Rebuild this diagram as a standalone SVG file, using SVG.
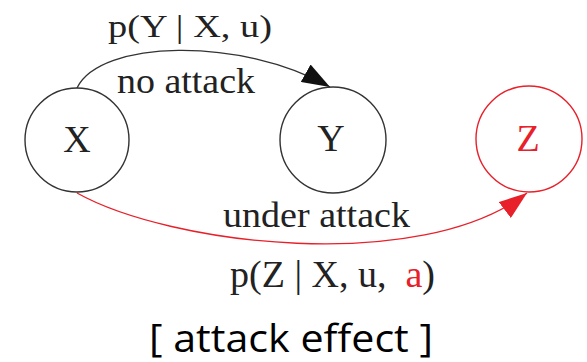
<svg xmlns="http://www.w3.org/2000/svg" width="587" height="362" viewBox="0 0 587 362">
<style>
.serif{font-family:"Liberation Serif","Times New Roman",serif;fill:#222}
.node{fill:none;stroke:#333;stroke-width:1.4}
.rnode{fill:none;stroke:#e8202a;stroke-width:1.4}
.lbl{font-size:38px;text-anchor:middle}
.red{fill:#e8202a}
.edge{fill:none;stroke:#333;stroke-width:1.4}
.redge{fill:none;stroke:#e8202a;stroke-width:1.4}
.cap{font-family:"Open Sans","Liberation Sans",sans-serif;font-size:38px;fill:#000}
</style>
<defs>
<marker id="ah" markerUnits="userSpaceOnUse" markerWidth="28" markerHeight="20" refX="28" refY="10" orient="auto" viewBox="0 0 28 20">
<path d="M0,0 L28,10 L0,20 z" fill="#111"/>
</marker>
<marker id="ahr" markerUnits="userSpaceOnUse" markerWidth="28" markerHeight="20" refX="28" refY="10" orient="auto" viewBox="0 0 28 20">
<path d="M0,0 L28,10 L0,20 z" fill="#e8202a"/>
</marker>
</defs>
<g id="connectors">
<path class="edge" d="M77,88 C100,40 240,36 330,87" marker-end="url(#ah)"/>
<path class="redge" d="M77,193 C170,245 420,275 527,193" marker-end="url(#ahr)"/>
<text class="serif" x="108" y="37" font-size="32" textLength="164" lengthAdjust="spacingAndGlyphs">p(Y | X, u)</text>
<text class="serif" x="117" y="93" font-size="35" textLength="138" lengthAdjust="spacingAndGlyphs">no attack</text>
<text class="serif" x="223" y="227" font-size="35" textLength="187" lengthAdjust="spacingAndGlyphs">under attack</text>
<text class="serif" x="230" y="287" font-size="38" textLength="205" lengthAdjust="spacingAndGlyphs">p(Z | X, u,&#160; <tspan class="red">a</tspan>)</text>
</g>
<g id="node-X">
<circle class="node" cx="77" cy="140" r="52"/>
<text class="serif lbl" x="77" y="152">X</text>
</g>
<g id="node-Y">
<circle class="node" cx="333" cy="140" r="53"/>
<text class="serif lbl" x="331" y="151">Y</text>
</g>
<g id="node-Z">
<circle class="rnode" cx="529" cy="139" r="53"/>
<text class="serif lbl red" x="528" y="151">Z</text>
</g>
<text class="cap" x="149" y="352" textLength="284" lengthAdjust="spacingAndGlyphs">[ attack effect ]</text>
</svg>
